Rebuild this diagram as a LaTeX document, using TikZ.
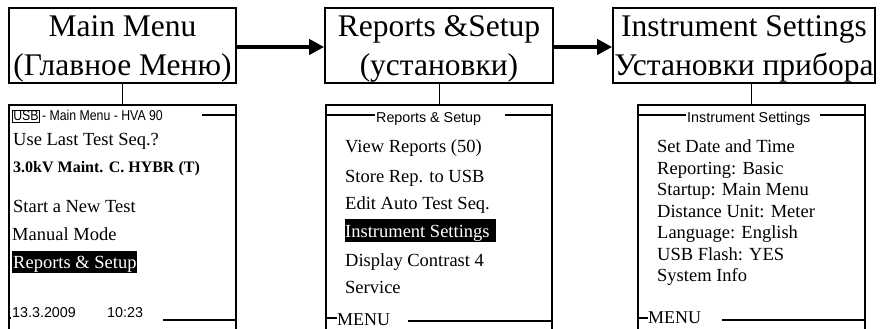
\documentclass[tikz,border=0pt]{standalone}
\usepackage{fontspec}
\setmainfont{Liberation Serif}
\setsansfont{Liberation Sans}
\newfontfamily\narrowsans[FakeStretch=0.86]{Liberation Sans}
\usetikzlibrary{arrows.meta}
\begin{document}
\begin{tikzpicture}[x=1pt,y=-1pt,
  titlebox/.style={draw, line width=1.6pt, minimum height=75pt, inner sep=0pt},
  titletext/.style={inner sep=0pt, anchor=base, font=\fontsize{31.5}{38}\selectfont},
  panel/.style={draw, line width=1.6pt, minimum height=260pt, inner sep=0pt, anchor=north},
  ser/.style={inner sep=0pt, anchor=base west, font=\fontsize{18.5}{21}\selectfont},
  serb/.style={inner sep=0pt, anchor=base west, font=\fontsize{16}{19}\selectfont\bfseries},
  sans/.style={inner sep=0pt, anchor=base west, font=\sffamily\fontsize{14.3}{17}\selectfont},
  nsans/.style={inner sep=0pt, anchor=base west, font=\narrowsans\fontsize{14.3}{17}\selectfont},
  hline/.style={line width=1.3pt},
  conn/.style={line width=0.8pt},
  bigarrow/.style={line width=4.5pt, -{Triangle[length=15pt,width=15pt]}}
]
\useasboundingbox (0,0) rectangle (887,329);

% title boxes
\node[titlebox, minimum width=227pt] (t1) at (122.5,45.5) {};
\node[titlebox, minimum width=228pt] (t2) at (439,45.5) {};
\node[titlebox, minimum width=262pt] (t3) at (744,45.5) {};
\node[titletext] (t1a) at (122.5,37) {Main Menu};
\node[titletext] (t1b) at (122.5,76) {(Главное Меню)};
\node[titletext] (t2a) at (439,37) {Reports \&Setup};
\node[titletext] (t2b) at (439,76) {(установки)};
\node[titletext] (t3a) at (744,37) {Instrument Settings};
\node[titletext] (t3b) at (744,76) {Установки прибора};

% arrows
\draw[bigarrow] (t1.east |- 0,47) -- (t2.west |- 0,47);
\draw[bigarrow] (t2.east |- 0,47) -- (t3.west |- 0,47);

% panels
\node[panel, minimum width=227pt] (p1) at (122.5,104) {};
\node[panel, minimum width=226pt] (p2) at (439,104) {};
\node[panel, minimum width=227pt] (p3) at (751.5,104) {};

% connectors
\draw[conn] (p1.north) -- (p1.north |- t1.south);
\draw[conn] (p2.north) -- (p2.north |- t2.south);
\draw[conn] (p3.north) -- (p3.north |- t3.south);

% ---- panel 1 ----
\node[nsans, draw, line width=0.6pt, inner sep=1pt] (usb) at (12,121) {USB};
\node[nsans] (h1) at ([xshift=2pt]usb.base east) {- Main Menu - HVA 90};
\draw[hline] (202,115) -- (p1.east |- 0,115);
\node[ser] (a1) at (13,145) {Use Last Test Seq.?};
\node[serb] (a2) at (13,172) {3.0kV Maint. C. HYBR (T)};
\node[ser] (a3) at (13,212) {Start a New Test};
\node[ser] (a4) at (12,240) {Manual Mode};
\fill (12,251) rectangle (137,273);
\node[ser, text=white] (a5) at (13,268) {Reports \& Setup};
\draw[hline] (p1.west |- 0,318) -- (11,318);
\node[sans] (d1) at (12,317) {13.3.2009};
\node[sans] (d2) at (107,317) {10:23};
\draw[hline] (163,320) -- (p1.east |- 0,320);

% ---- panel 2 ----
\draw[hline] (p2.west |- 0,115) -- (375,115);
\node[sans] (h2) at (376,123) {Reports \& Setup};
\draw[hline] (505,115) -- (p2.east |- 0,115);
\node[ser] (b1) at (345,153) {View Reports (50)};
\node[ser] (b2) at (345,182) {Store Rep. to USB};
\node[ser] (b3) at (345,209) {Edit Auto Test Seq.};
\fill (345,219) rectangle (496,242);
\node[ser, text=white] (b4) at (345,237) {Instrument Settings};
\node[ser] (b5) at (345,266) {Display Contrast 4};
\node[ser] (b6) at (345,293) {Service};
\draw[hline] (p2.west |- 0,318) -- (337,318);
\node[ser, font=\fontsize{18}{21}\selectfont] (b7) at (337,325) {MENU};
\draw[hline] (408,321) -- (p2.east |- 0,321);

% ---- panel 3 ----
\draw[hline] (p3.west |- 0,115) -- (686,115);
\node[sans] (h3) at (687,122) {Instrument Settings};
\draw[hline] (820,115) -- (p3.east |- 0,115);
\node[ser] (c1) at (657,152) {Set Date and Time};
\node[ser] (c2) at (657,174) {Reporting: Basic};
\node[ser] (c3) at (657,195.5) {Startup: Main Menu};
\node[ser] (c4) at (657,217) {Distance Unit: Meter};
\node[ser] (c5) at (657,238.5) {Language: English};
\node[ser] (c6) at (657,260) {USB Flash: YES};
\node[ser] (c7) at (657,281.5) {System Info};
\draw[hline] (p3.west |- 0,318) -- (648,318);
\node[ser, font=\fontsize{18}{21}\selectfont] (c8) at (648,323) {MENU};
\draw[hline] (722,320) -- (p3.east |- 0,320);
\end{tikzpicture}
\end{document}
